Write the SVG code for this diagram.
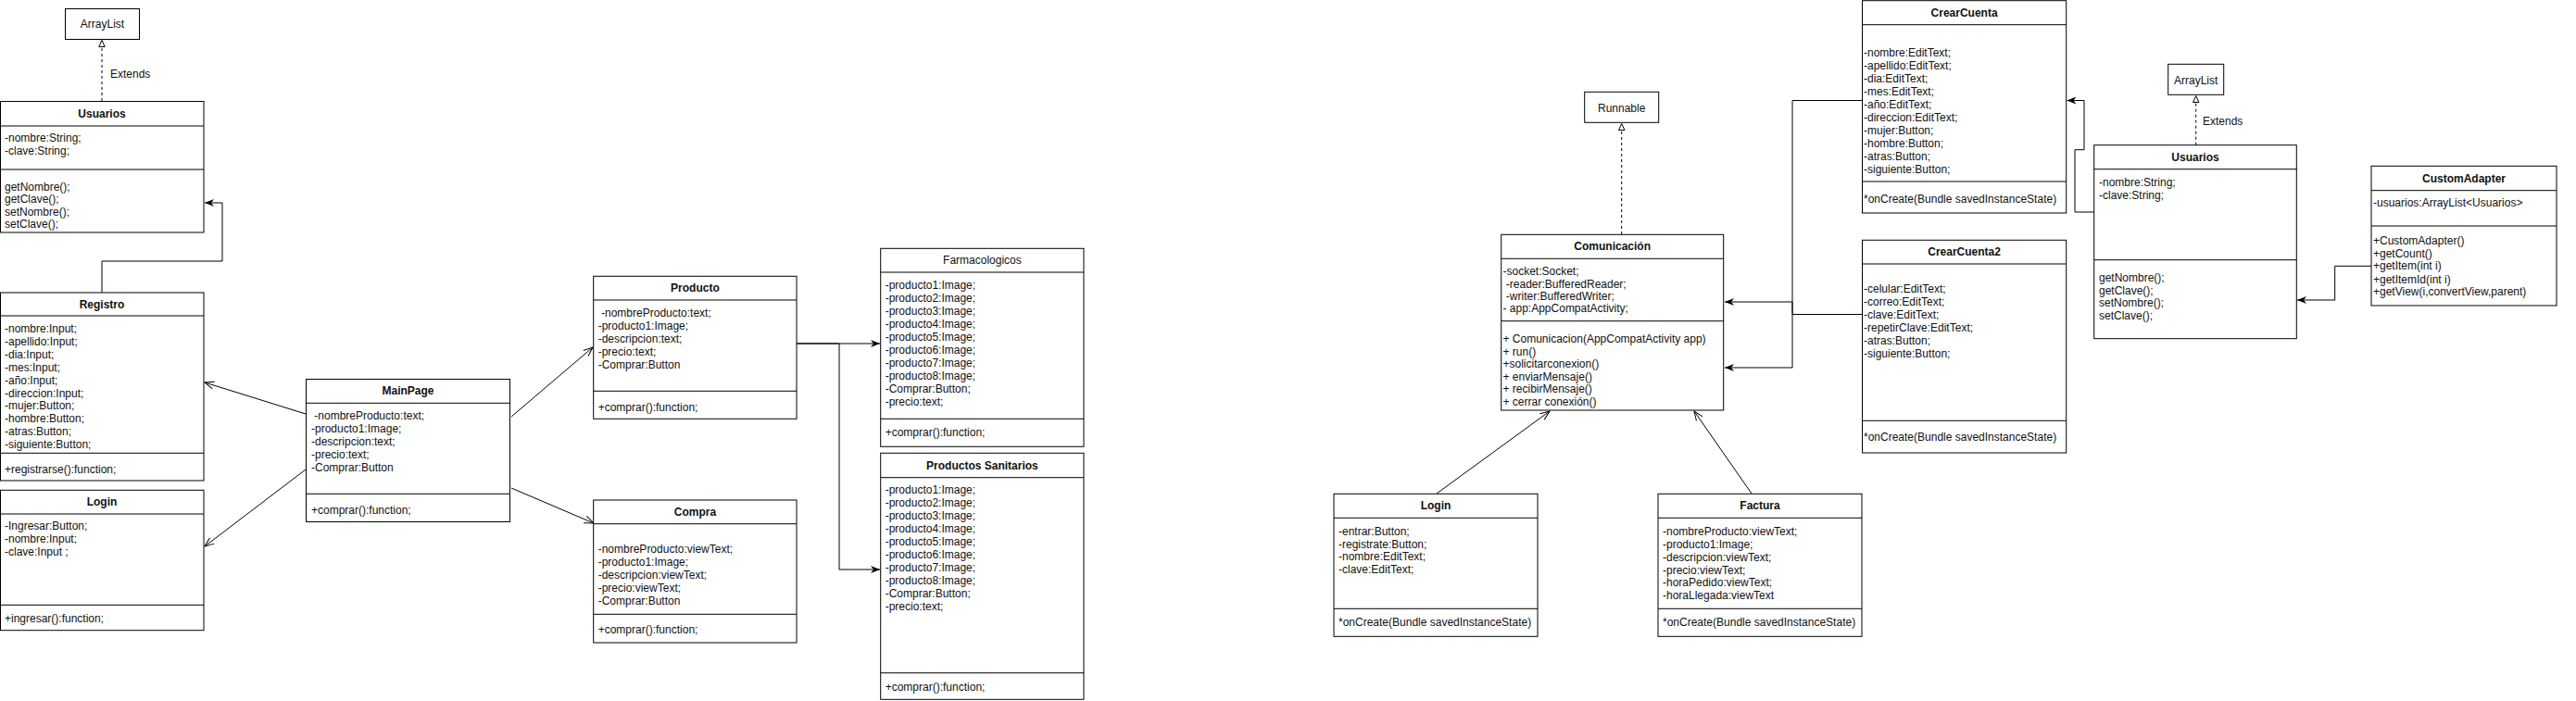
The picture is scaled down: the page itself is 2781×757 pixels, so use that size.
<svg xmlns="http://www.w3.org/2000/svg" width="2781" height="757" viewBox="0 0 2781 757">
<style>
.box{fill:#fff;stroke:#000;stroke-width:1}
.div{stroke:#000;stroke-width:1}
text{font-family:"Liberation Sans",Arial,sans-serif;font-size:12px;fill:#111}
.h{font-weight:bold;text-anchor:middle}
.hn{text-anchor:middle}
.c{text-anchor:middle}
.ln{fill:none;stroke:#000;stroke-width:1}
.dash{fill:none;stroke:#000;stroke-width:1;stroke-dasharray:3 3}
</style>
<defs>
<marker id="classic" viewBox="0 0 10 8" refX="10" refY="4" markerWidth="10" markerHeight="8" orient="auto" markerUnits="userSpaceOnUse"><path d="M0,0 L10,4 L0,8 L3,4 Z" fill="#000"/></marker>
<marker id="open" viewBox="-1 -1 12 12" refX="10" refY="5" markerWidth="12" markerHeight="12" orient="auto" markerUnits="userSpaceOnUse" overflow="visible"><path d="M0,1 L10,5 L0,9" fill="none" stroke="#000" stroke-width="1"/></marker>
<marker id="tri" viewBox="0 0 8 8" refX="8" refY="4" markerWidth="8" markerHeight="8" orient="auto" markerUnits="userSpaceOnUse" overflow="visible"><path d="M0.5,0.8 L7.5,4 L0.5,7.2 Z" fill="#fff" stroke="#000" stroke-width="1"/></marker>
</defs>
<rect x="0" y="0" width="2781" height="757" fill="#fff"/>

<g id="connectors">
<path class="dash" d="M110,109 V43" marker-end="url(#tri)"/>
<path class="ln" d="M110,316 V282 H240 V219 H221" marker-end="url(#classic)"/>
<path class="ln" d="M330,447 L221,413" marker-end="url(#open)"/>
<path class="ln" d="M330,507 L221,590" marker-end="url(#open)"/>
<path class="ln" d="M552,450 L640,375" marker-end="url(#open)"/>
<path class="ln" d="M552,527 L641,565" marker-end="url(#open)"/>
<path class="ln" d="M860,371 H950" marker-end="url(#classic)"/>
<path class="ln" d="M860,371 H906 V615 H950" marker-end="url(#classic)"/>
<path class="dash" d="M1750.7,253 V133" marker-end="url(#tri)"/>
<path class="ln" d="M2010,108.5 H1935 V397 H1862" marker-end="url(#classic)"/>
<path class="ln" d="M2010,339.5 H1935 V326 H1862" marker-end="url(#classic)"/>
<path class="ln" d="M2260.7,229 H2240 V161.7 H2250 V108.5 H2231.5" marker-end="url(#classic)"/>
<path class="ln" d="M2560,287.3 H2520.7 V324 H2480" marker-end="url(#classic)"/>
<path class="dash" d="M2370.7,156.7 V103" marker-end="url(#tri)"/>
<path class="ln" d="M1551,533 L1673,444" marker-end="url(#open)"/>
<path class="ln" d="M1891,533 L1829,444" marker-end="url(#open)"/>
</g>
<text x="119" y="84">Extends</text>
<text x="2378" y="135">Extends</text>

<g id="arraylist-left">
<rect class="box" x="70.5" y="9.5" width="80" height="33"/>
<text class="c" x="110.5" y="30">ArrayList</text>
</g>

<g id="usuarios-left">
<rect class="box" x="0.5" y="109.5" width="219.5" height="141.5"/>
<line class="div" x1="0.5" y1="136" x2="220" y2="136"/>
<line class="div" x1="0.5" y1="183" x2="220" y2="183"/>
<text class="h" x="110" y="127">Usuarios</text>
<text x="5" y="153">-nombre:String;</text>
<text x="5" y="167">-clave:String;</text>
<text x="5" y="205.5">getNombre();</text>
<text x="5" y="219">getClave();</text>
<text x="5" y="232.5">setNombre();</text>
<text x="5" y="246">setClave();</text>
</g>

<g id="registro">
<rect class="box" x="0.5" y="316" width="219.5" height="203"/>
<line class="div" x1="0.5" y1="341" x2="220" y2="341"/>
<line class="div" x1="0.5" y1="489.3" x2="220" y2="489.3"/>
<text class="h" x="110" y="333">Registro</text>
<text x="5" y="359">-nombre:Input;</text>
<text x="5" y="372.9">-apellido:Input;</text>
<text x="5" y="386.8">-dia:Input;</text>
<text x="5" y="400.7">-mes:Input;</text>
<text x="5" y="414.6">-año:Input;</text>
<text x="5" y="428.5">-direccion:Input;</text>
<text x="5" y="442.4">-mujer:Button;</text>
<text x="5" y="456.3">-hombre:Button;</text>
<text x="5" y="470.2">-atras:Button;</text>
<text x="5" y="484.1">-siguiente:Button;</text>
<text x="5" y="510.7">+registrarse():function;</text>
</g>

<g id="login-left">
<rect class="box" x="0.5" y="529.3" width="219.5" height="151.4"/>
<line class="div" x1="0.5" y1="555" x2="220" y2="555"/>
<line class="div" x1="0.5" y1="653.3" x2="220" y2="653.3"/>
<text class="h" x="110" y="546">Login</text>
<text x="5" y="572.3">-Ingresar:Button;</text>
<text x="5" y="586">-nombre:Input;</text>
<text x="5" y="600">-clave:Input ;</text>
<text x="5" y="672.3">+ingresar():function;</text>
</g>

<g id="mainpage">
<rect class="box" x="330.5" y="409.5" width="220" height="154"/>
<line class="div" x1="330.5" y1="435.3" x2="550.5" y2="435.3"/>
<line class="div" x1="330.5" y1="533.3" x2="550.5" y2="533.3"/>
<text class="h" x="440.5" y="426.3">MainPage</text>
<text x="336" y="453.3">&#160;-nombreProducto:text;</text>
<text x="336" y="467.3">-producto1:Image;</text>
<text x="336" y="481.3">-descripcion:text;</text>
<text x="336" y="495.3">-precio:text;</text>
<text x="336" y="509.3">-Comprar:Button</text>
<text x="336" y="554.7">+comprar():function;</text>
</g>

<g id="producto">
<rect class="box" x="640.7" y="298.3" width="219.3" height="154"/>
<line class="div" x1="640.7" y1="324" x2="860" y2="324"/>
<line class="div" x1="640.7" y1="422.3" x2="860" y2="422.3"/>
<text class="h" x="750.4" y="315">Producto</text>
<text x="645.7" y="342.3">&#160;-nombreProducto:text;</text>
<text x="645.7" y="356.3">-producto1:Image;</text>
<text x="645.7" y="370.3">-descripcion:text;</text>
<text x="645.7" y="384.3">-precio:text;</text>
<text x="645.7" y="398.3">-Comprar:Button</text>
<text x="645.7" y="444">+comprar():function;</text>
</g>

<g id="compra">
<rect class="box" x="640.7" y="540" width="219.3" height="154"/>
<line class="div" x1="640.7" y1="565.7" x2="860" y2="565.7"/>
<line class="div" x1="640.7" y1="663.3" x2="860" y2="663.3"/>
<text class="h" x="750.4" y="557">Compra</text>
<text x="645.7" y="597.3">-nombreProducto:viewText;</text>
<text x="645.7" y="611.3">-producto1:Image;</text>
<text x="645.7" y="625.3">-descripcion:viewText;</text>
<text x="645.7" y="639.3">-precio:viewText;</text>
<text x="645.7" y="653.3">-Comprar:Button</text>
<text x="645.7" y="684">+comprar():function;</text>
</g>

<g id="farmacologicos">
<rect class="box" x="950.7" y="268.3" width="219.3" height="214"/>
<line class="div" x1="950.7" y1="294" x2="1170" y2="294"/>
<line class="div" x1="950.7" y1="452.3" x2="1170" y2="452.3"/>
<text class="hn" x="1060.4" y="285">Farmacologicos</text>
<text x="955.7" y="312.3">-producto1:Image;</text>
<text x="955.7" y="326.3">-producto2:Image;</text>
<text x="955.7" y="340.3">-producto3:Image;</text>
<text x="955.7" y="354.3">-producto4:Image;</text>
<text x="955.7" y="368.3">-producto5:Image;</text>
<text x="955.7" y="382.3">-producto6:Image;</text>
<text x="955.7" y="396.3">-producto7:Image;</text>
<text x="955.7" y="410.3">-producto8:Image;</text>
<text x="955.7" y="424.3">-Comprar:Button;</text>
<text x="955.7" y="438.3">-precio:text;</text>
<text x="955.7" y="471.3">+comprar():function;</text>
</g>

<g id="productos-sanitarios">
<rect class="box" x="950.7" y="489.3" width="219.3" height="266"/>
<line class="div" x1="950.7" y1="515.7" x2="1170" y2="515.7"/>
<line class="div" x1="950.7" y1="726.7" x2="1170" y2="726.7"/>
<text class="h" x="1060.4" y="506.5">Productos Sanitarios</text>
<text x="955.7" y="533.3">-producto1:Image;</text>
<text x="955.7" y="547.3">-producto2:Image;</text>
<text x="955.7" y="561.3">-producto3:Image;</text>
<text x="955.7" y="575.3">-producto4:Image;</text>
<text x="955.7" y="589.3">-producto5:Image;</text>
<text x="955.7" y="603.3">-producto6:Image;</text>
<text x="955.7" y="617.3">-producto7:Image;</text>
<text x="955.7" y="631.3">-producto8:Image;</text>
<text x="955.7" y="645.3">-Comprar:Button;</text>
<text x="955.7" y="659.3">-precio:text;</text>
<text x="955.7" y="745.7">+comprar():function;</text>
</g>

<g id="runnable">
<rect class="box" x="1710.7" y="99.3" width="80" height="33"/>
<text class="c" x="1750.7" y="120.7">Runnable</text>
</g>

<g id="comunicacion">
<rect class="box" x="1620.7" y="253.3" width="240" height="189.7"/>
<line class="div" x1="1620.7" y1="279.3" x2="1860.7" y2="279.3"/>
<line class="div" x1="1620.7" y1="346.7" x2="1860.7" y2="346.7"/>
<text class="h" x="1740.7" y="270.3">Comunicación</text>
<text x="1622.5" y="297.3">-socket:Socket;</text>
<text x="1622.5" y="310.6">&#160;-reader:BufferedReader;</text>
<text x="1622.5" y="323.9">&#160;-writer:BufferedWriter;</text>
<text x="1622.5" y="337.2">- app:AppCompatActivity;</text>
<text x="1622.5" y="370">+ Comunicacion(AppCompatActivity app)</text>
<text x="1622.5" y="383.5">+ run()</text>
<text x="1622.5" y="397">+solicitarconexion()</text>
<text x="1622.5" y="410.5">+ enviarMensaje()</text>
<text x="1622.5" y="424">+ recibirMensaje()</text>
<text x="1622.5" y="437.5">+ cerrar conexión()</text>
</g>

<g id="crearcuenta">
<rect class="box" x="2010.5" y="0.7" width="220.2" height="229.3"/>
<line class="div" x1="2010.5" y1="26.7" x2="2230.7" y2="26.7"/>
<line class="div" x1="2010.5" y1="196" x2="2230.7" y2="196"/>
<text class="h" x="2120.6" y="17.7">CrearCuenta</text>
<text x="2012" y="61.3">-nombre:EditText;</text>
<text x="2012" y="75.2">-apellido:EditText;</text>
<text x="2012" y="89.2">-dia:EditText;</text>
<text x="2012" y="103.1">-mes:EditText;</text>
<text x="2012" y="117.1">-año:EditText;</text>
<text x="2012" y="131">-direccion:EditText;</text>
<text x="2012" y="144.9">-mujer:Button;</text>
<text x="2012" y="158.9">-hombre:Button;</text>
<text x="2012" y="172.8">-atras:Button;</text>
<text x="2012" y="186.8">-siguiente:Button;</text>
<text x="2012" y="219">*onCreate(Bundle savedInstanceState)</text>
</g>

<g id="crearcuenta2">
<rect class="box" x="2010.5" y="259.3" width="220.2" height="229.7"/>
<line class="div" x1="2010.5" y1="285" x2="2230.7" y2="285"/>
<line class="div" x1="2010.5" y1="454.3" x2="2230.7" y2="454.3"/>
<text class="h" x="2120.6" y="276">CrearCuenta2</text>
<text x="2012" y="315.7">-celular:EditText;</text>
<text x="2012" y="329.7">-correo:EditText;</text>
<text x="2012" y="343.7">-clave:EditText;</text>
<text x="2012" y="357.7">-repetirClave:EditText;</text>
<text x="2012" y="371.7">-atras:Button;</text>
<text x="2012" y="385.7">-siguiente:Button;</text>
<text x="2012" y="475.7">*onCreate(Bundle savedInstanceState)</text>
</g>

<g id="arraylist-right">
<rect class="box" x="2340.7" y="69.3" width="60" height="33"/>
<text class="c" x="2370.7" y="90.7">ArrayList</text>
</g>

<g id="usuarios-right">
<rect class="box" x="2260.7" y="156.7" width="218.6" height="209"/>
<line class="div" x1="2260.7" y1="182.7" x2="2479.3" y2="182.7"/>
<line class="div" x1="2260.7" y1="280.7" x2="2479.3" y2="280.7"/>
<text class="h" x="2370" y="173.7">Usuarios</text>
<text x="2266" y="200.7">-nombre:String;</text>
<text x="2266" y="214.7">-clave:String;</text>
<text x="2266" y="304">getNombre();</text>
<text x="2266" y="317.5">getClave();</text>
<text x="2266" y="331">setNombre();</text>
<text x="2266" y="344.7">setClave();</text>
</g>

<g id="customadapter">
<rect class="box" x="2560" y="179.3" width="200" height="150.7"/>
<line class="div" x1="2560" y1="205.7" x2="2760" y2="205.7"/>
<line class="div" x1="2560" y1="244" x2="2760" y2="244"/>
<text class="h" x="2660" y="196.5">CustomAdapter</text>
<text x="2562" y="223">-usuarios:ArrayList&lt;Usuarios&gt;</text>
<text x="2562" y="264">+CustomAdapter()</text>
<text x="2562" y="277.5">+getCount()</text>
<text x="2562" y="291.3">+getItem(int i)</text>
<text x="2562" y="305.5">+getItemId(int i)</text>
<text x="2562" y="319">+getView(i,convertView,parent)</text>
</g>

<g id="login-right">
<rect class="box" x="1440" y="533.3" width="220" height="154"/>
<line class="div" x1="1440" y1="559.3" x2="1660" y2="559.3"/>
<line class="div" x1="1440" y1="657.3" x2="1660" y2="657.3"/>
<text class="h" x="1550" y="550.3">Login</text>
<text x="1445" y="578">-entrar:Button;</text>
<text x="1445" y="591.7">-registrate:Button;</text>
<text x="1445" y="605.3">-nombre:EditText;</text>
<text x="1445" y="619">-clave:EditText;</text>
<text x="1445" y="675.7">*onCreate(Bundle savedInstanceState)</text>
</g>

<g id="factura">
<rect class="box" x="1790" y="533.3" width="220" height="154"/>
<line class="div" x1="1790" y1="559.3" x2="2010" y2="559.3"/>
<line class="div" x1="1790" y1="657.3" x2="2010" y2="657.3"/>
<text class="h" x="1900" y="550.3">Factura</text>
<text x="1795" y="578">-nombreProducto:viewText;</text>
<text x="1795" y="591.9">-producto1:Image;</text>
<text x="1795" y="605.7">-descripcion:viewText;</text>
<text x="1795" y="619.6">-precio:viewText;</text>
<text x="1795" y="633.4">-horaPedido:viewText;</text>
<text x="1795" y="647.3">-horaLlegada:viewText</text>
<text x="1795" y="675.7">*onCreate(Bundle savedInstanceState)</text>
</g>
</svg>
